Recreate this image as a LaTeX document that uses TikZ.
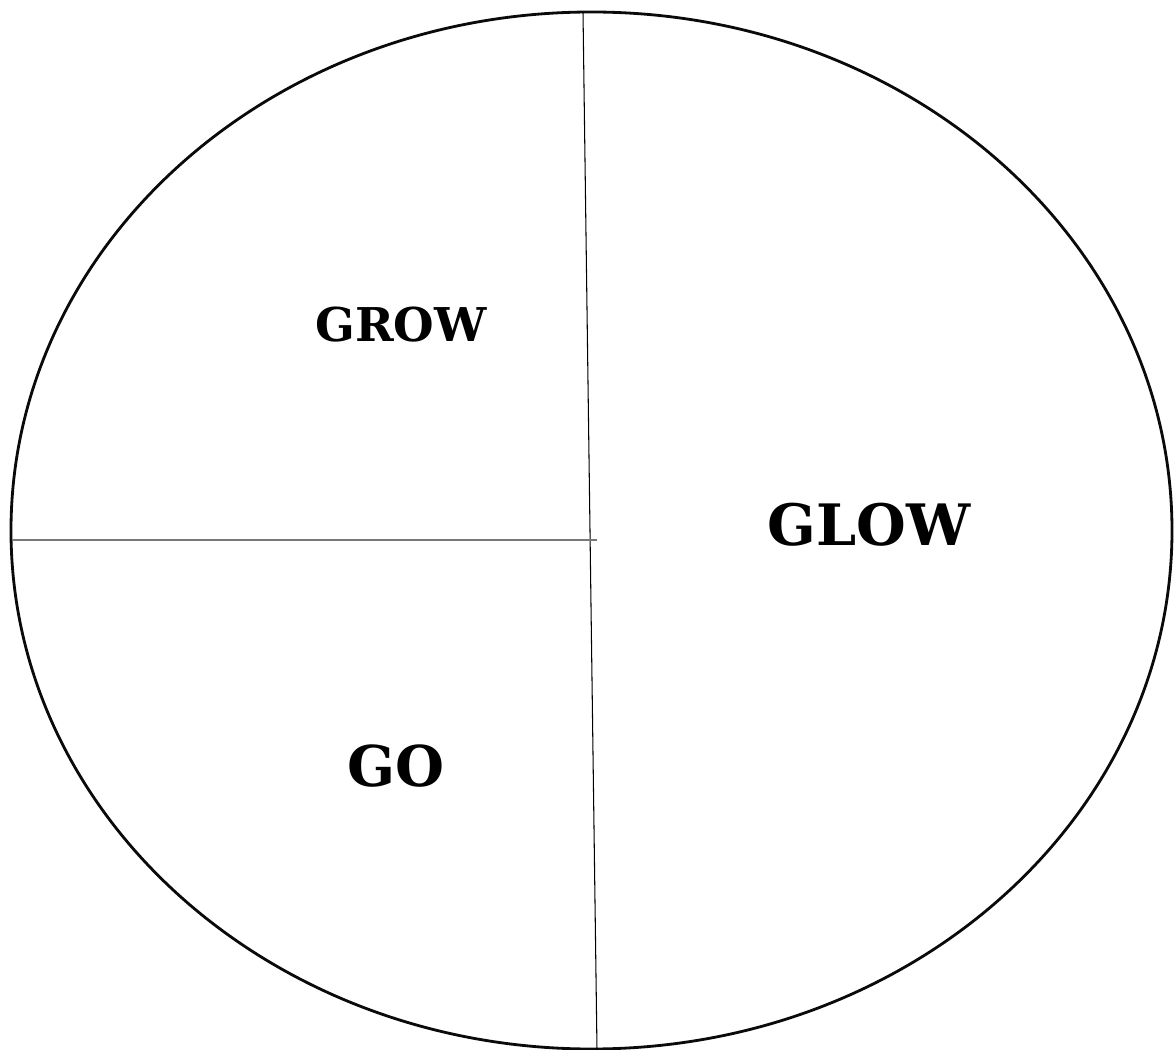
\documentclass[tikz,border=0pt]{standalone}
\usepackage{fontspec}
\setmainfont{DejaVu Serif}
\definecolor{rimblack}{RGB}{10, 10, 10}
\definecolor{splitgray}{RGB}{120, 120, 120}
\usetikzlibrary{positioning}

\begin{document}
\begin{tikzpicture}[x=0.02cm,y=-0.02cm,
    rim/.style={line width=1.6pt,rimblack},
    divider/.style={line width=0.6pt,black},
    crossline/.style={line width=0.8pt,splitgray},
    word/.style={font=\bfseries}]
    \useasboundingbox (0,0) rectangle (1174,1050);
    \draw[rim] (591.5,530.5) ellipse [x radius=580.5, y radius=518.5];
    \coordinate (top) at (583,12);
    \coordinate (bottom) at (597,1050);
    \coordinate (left) at (12,540);
    \coordinate (mid) at (597,540);
    \draw[divider] (top) -- (bottom);
    \draw[crossline] (left) -- (mid);
    \node[word,font=\bfseries\fontsize{26.5}{30}\selectfont] (grow) at (401,325) {GROW};
    \node[word,font=\bfseries\fontsize{32.5}{38}\selectfont] (glow) at (869,525) {GLOW};
    \node[word,font=\bfseries\fontsize{32}{36}\selectfont] (go) at (396,766) {GO};
\end{tikzpicture}
\end{document}
